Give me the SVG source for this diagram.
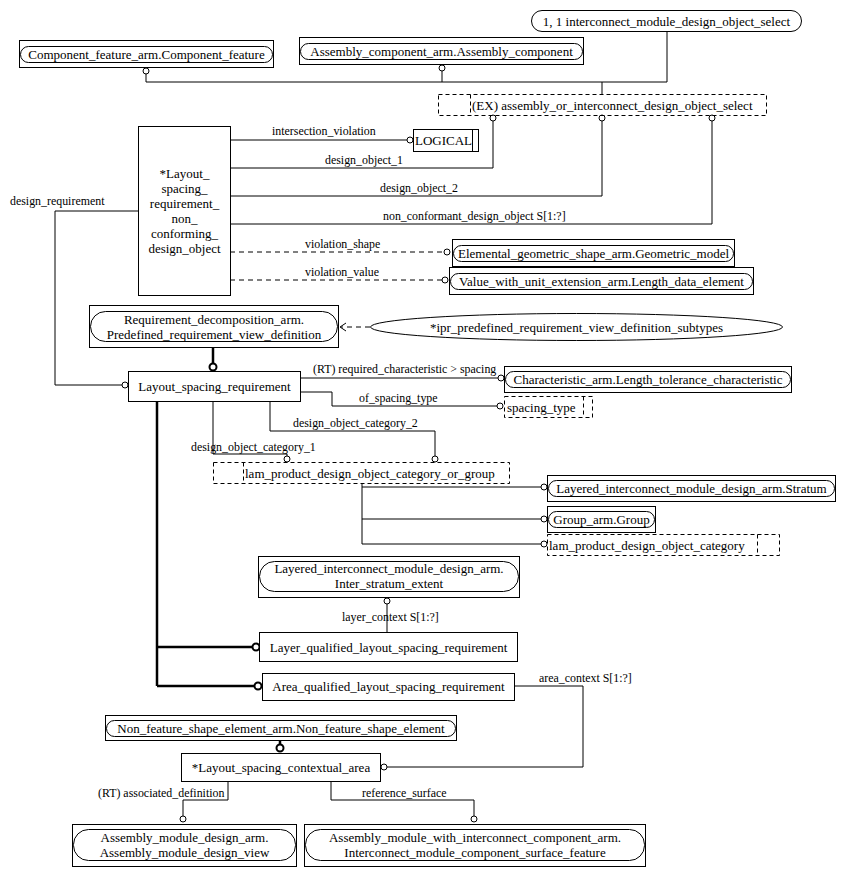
<svg xmlns="http://www.w3.org/2000/svg" width="845" height="876" viewBox="0 0 845 876">
<style>
.bx{fill:#fff;stroke:#000;stroke-width:1}
.pill{fill:none;stroke:#000;stroke-width:1}
.dbx{fill:none;stroke:#000;stroke-width:1;stroke-dasharray:4,3}
.t{font-family:"Liberation Serif","Times New Roman",serif;font-size:13px;fill:#000}
.c{text-anchor:middle}
.l{font-family:"Liberation Serif","Times New Roman",serif;font-size:11.9px;fill:#000}
.ln{fill:none;stroke:#000;stroke-width:1}
.dl{fill:none;stroke:#000;stroke-width:1;stroke-dasharray:5,4}
.th{fill:none;stroke:#000;stroke-width:2.5}
.o{fill:#fff;stroke:#000;stroke-width:1}
.ot{fill:#fff;stroke:#000;stroke-width:2}
</style>
<rect width="845" height="876" fill="#fff"/>
<g id="connectors">
<path class="ln" d="M146,74 V82 H667 V32"/>
<path class="ln" d="M442,71 V82"/>
<path class="ln" d="M602,82 V94"/>
<path class="ln" d="M493,121 V168 H230"/>
<path class="ln" d="M602,121 V196 H230"/>
<path class="ln" d="M712,121 V224 H230"/>
<path class="ln" d="M230,140 H407"/>
<path class="dl" d="M230,252 H444"/>
<path class="dl" d="M230,280 H442"/>
<path class="ln" d="M138,211 H55 V385 H122"/>
<path class="th" d="M213,347 V363"/>
<path class="dl" d="M370,327 H341"/>
<path class="ln" d="M346,323 L340,327 L346,331"/>
<path class="ln" d="M300,378 H498"/>
<path class="ln" d="M300,392 H332 V406 H497"/>
<path class="ln" d="M270,401 V431 H435 V456"/>
<path class="ln" d="M213,401 V454 H287 V456"/>
<path class="ln" d="M362,483 V544 H541 M362,487 H541 M362,519 H541"/>
<path class="ln" d="M387,604 V632"/>
<path class="th" d="M157,401 V686 M157,647 H252 M157,686 H254"/>
<path class="ln" d="M514,686 H583 V767 H387"/>
<path class="th" d="M280,740 V744"/>
<path class="ln" d="M228,781 V800 H183 V816"/>
<path class="ln" d="M331,781 V800 H474 V816"/>
<circle class="o" cx="146" cy="71" r="3"/>
<circle class="o" cx="442" cy="68" r="3"/>
<circle class="o" cx="493" cy="118" r="3"/>
<circle class="o" cx="602" cy="118" r="3"/>
<circle class="o" cx="712" cy="118" r="3"/>
<circle class="o" cx="410" cy="140" r="3"/>
<circle class="o" cx="447" cy="252" r="3"/>
<circle class="o" cx="445" cy="280" r="3"/>
<circle class="o" cx="125" cy="385" r="3"/>
<circle class="ot" cx="213" cy="367" r="3.5"/>
<circle class="o" cx="501" cy="378" r="3"/>
<circle class="o" cx="500" cy="406" r="3"/>
<circle class="o" cx="435" cy="459" r="3"/>
<circle class="o" cx="287" cy="459" r="3"/>
<circle class="o" cx="544" cy="487" r="3"/>
<circle class="o" cx="544" cy="519" r="3"/>
<circle class="o" cx="544" cy="544" r="3"/>
<circle class="o" cx="387" cy="601" r="3"/>
<circle class="ot" cx="256" cy="647" r="3.5"/>
<circle class="ot" cx="258" cy="686" r="3.5"/>
<circle class="o" cx="384" cy="767" r="3"/>
<circle class="ot" cx="280" cy="748" r="3.5"/>
<circle class="o" cx="183" cy="819" r="3"/>
<circle class="o" cx="474" cy="819" r="3"/>
</g>
<g id="labels">
<text class="l" x="272" y="135">intersection_violation</text>
<text class="l" x="325" y="164">design_object_1</text>
<text class="l" x="380" y="192">design_object_2</text>
<text class="l" x="383" y="220">non_conformant_design_object S[1:?]</text>
<text class="l" x="305" y="248">violation_shape</text>
<text class="l" x="305" y="276">violation_value</text>
<text class="l" x="10" y="205">design_requirement</text>
<text class="l" x="313" y="373">(RT) required_characteristic &gt; spacing</text>
<text class="l" x="359" y="402">of_spacing_type</text>
<text class="l" x="293" y="427">design_object_category_2</text>
<text class="l" x="191" y="451">design_object_category_1</text>
<text class="l" x="342" y="621">layer_context S[1:?]</text>
<text class="l" x="539" y="682">area_context S[1:?]</text>
<text class="l" x="98" y="797">(RT) associated_definition</text>
<text class="l" x="362" y="797">reference_surface</text>
</g>
<g id="component_feature">
<rect class="bx" x="19.5" y="40.5" width="254" height="27"/>
<rect class="pill" x="20.5" y="46.5" width="252" height="16" rx="8"/>
<text class="t c" x="146.5" y="59">Component_feature_arm.Component_feature</text>
</g>
<g id="assembly_component">
<rect class="bx" x="299.5" y="37.5" width="284" height="27"/>
<rect class="pill" x="300.5" y="43.5" width="282" height="16" rx="8"/>
<text class="t c" x="441.5" y="56">Assembly_component_arm.Assembly_component</text>
</g>
<g id="interconnect_select">
<rect class="pill" x="531.5" y="10.5" width="270" height="21" rx="10.5" fill="#fff"/>
<text class="t c" x="666.5" y="25.5">1, 1 interconnect_module_design_object_select</text>
</g>
<g id="ex_select">
<rect class="dbx" x="438.5" y="94.5" width="328" height="21"/>
<path class="dbx" d="M470.5,94.5 V115.5"/>
<text class="t" x="472" y="110">(EX) assembly_or_interconnect_design_object_select</text>
</g>
<g id="logical">
<rect class="bx" x="413.5" y="129.5" width="65" height="22"/>
<path class="ln" d="M472.5,129.5 V151.5"/>
<text class="t" x="415" y="145">LOGICAL</text>
</g>
<g id="non_conforming">
<rect class="bx" x="138.5" y="126.5" width="92" height="169"/>
<text class="t c" x="184.5" y="178">*Layout_</text>
<text class="t c" x="184.5" y="193">spacing_</text>
<text class="t c" x="184.5" y="208">requirement_</text>
<text class="t c" x="184.5" y="223">non_</text>
<text class="t c" x="184.5" y="238">conforming_</text>
<text class="t c" x="184.5" y="253">design_object</text>
</g>
<g id="geometric_model">
<rect class="bx" x="452.5" y="239.5" width="282" height="27"/>
<rect class="pill" x="453.5" y="245.5" width="280" height="16" rx="8"/>
<text class="t c" x="593.5" y="258">Elemental_geometric_shape_arm.Geometric_model</text>
</g>
<g id="length_data_element">
<rect class="bx" x="449.5" y="267.5" width="304" height="27"/>
<rect class="pill" x="450.5" y="273.5" width="302" height="16" rx="8"/>
<text class="t c" x="601.5" y="286">Value_with_unit_extension_arm.Length_data_element</text>
</g>
<g id="predefined_view">
<rect class="bx" x="89.5" y="305.5" width="249" height="42"/>
<rect class="pill" x="90.5" y="311.5" width="247" height="30" rx="15"/>
<text class="t c" x="214" y="324">Requirement_decomposition_arm.</text>
<text class="t c" x="214" y="339">Predefined_requirement_view_definition</text>
</g>
<g id="ipr_subtypes">
<ellipse class="pill" cx="576.5" cy="327" rx="206" ry="13.5"/>
<text class="t c" x="576.5" y="331.5">*ipr_predefined_requirement_view_definition_subtypes</text>
</g>
<g id="layout_spacing_requirement">
<rect class="bx" x="128.5" y="371.5" width="172" height="30"/>
<text class="t c" x="214.5" y="391">Layout_spacing_requirement</text>
</g>
<g id="length_tolerance">
<rect class="bx" x="504.5" y="366.5" width="287" height="26"/>
<rect class="pill" x="505.5" y="371.5" width="285" height="16" rx="8"/>
<text class="t c" x="648" y="384">Characteristic_arm.Length_tolerance_characteristic</text>
</g>
<g id="spacing_type">
<rect class="dbx" x="504.5" y="396.5" width="88" height="21"/>
<path class="dbx" d="M583.5,396.5 V417.5"/>
<text class="t" x="507" y="412">spacing_type</text>
</g>
<g id="category_or_group">
<rect class="dbx" x="213.5" y="462.5" width="296" height="21"/>
<path class="dbx" d="M243.5,462.5 V483.5"/>
<text class="t" x="245" y="478">lam_product_design_object_category_or_group</text>
</g>
<g id="stratum">
<rect class="bx" x="547.5" y="475.5" width="288" height="26"/>
<rect class="pill" x="548.5" y="480.5" width="286" height="16" rx="8"/>
<text class="t c" x="691.5" y="493">Layered_interconnect_module_design_arm.Stratum</text>
</g>
<g id="group">
<rect class="bx" x="547.5" y="506.5" width="108" height="26"/>
<rect class="pill" x="548.5" y="511.5" width="106" height="16" rx="8"/>
<text class="t c" x="601.5" y="524">Group_arm.Group</text>
</g>
<g id="design_object_category">
<rect class="dbx" x="547.5" y="534.5" width="232" height="21"/>
<path class="dbx" d="M757.5,534.5 V555.5"/>
<text class="t" x="549" y="550">lam_product_design_object_category</text>
</g>
<g id="inter_stratum_extent">
<rect class="bx" x="258.5" y="556.5" width="261" height="41"/>
<rect class="pill" x="259.5" y="561.5" width="259" height="30" rx="15"/>
<text class="t c" x="389" y="573">Layered_interconnect_module_design_arm.</text>
<text class="t c" x="389" y="588">Inter_stratum_extent</text>
</g>
<g id="layer_qualified">
<rect class="bx" x="259.5" y="632.5" width="258" height="29"/>
<text class="t c" x="388.5" y="652">Layer_qualified_layout_spacing_requirement</text>
</g>
<g id="area_qualified">
<rect class="bx" x="262.5" y="673.5" width="252" height="27"/>
<text class="t c" x="388.5" y="691">Area_qualified_layout_spacing_requirement</text>
</g>
<g id="non_feature_shape_element">
<rect class="bx" x="105.5" y="715.5" width="351" height="25"/>
<rect class="pill" x="106.5" y="720.5" width="349" height="16" rx="8"/>
<text class="t c" x="281" y="733">Non_feature_shape_element_arm.Non_feature_shape_element</text>
</g>
<g id="contextual_area">
<rect class="bx" x="181.5" y="753.5" width="199" height="28"/>
<text class="t c" x="281" y="772">*Layout_spacing_contextual_area</text>
</g>
<g id="assembly_module_design_view">
<rect class="bx" x="72.5" y="824.5" width="224" height="42"/>
<rect class="pill" x="73.5" y="829.5" width="222" height="31" rx="15"/>
<text class="t c" x="184.5" y="842">Assembly_module_design_arm.</text>
<text class="t c" x="184.5" y="857">Assembly_module_design_view</text>
</g>
<g id="surface_feature">
<rect class="bx" x="304.5" y="824.5" width="341" height="42"/>
<rect class="pill" x="305.5" y="829.5" width="339" height="31" rx="15"/>
<text class="t c" x="475" y="842">Assembly_module_with_interconnect_component_arm.</text>
<text class="t c" x="475" y="857">Interconnect_module_component_surface_feature</text>
</g>
</svg>
